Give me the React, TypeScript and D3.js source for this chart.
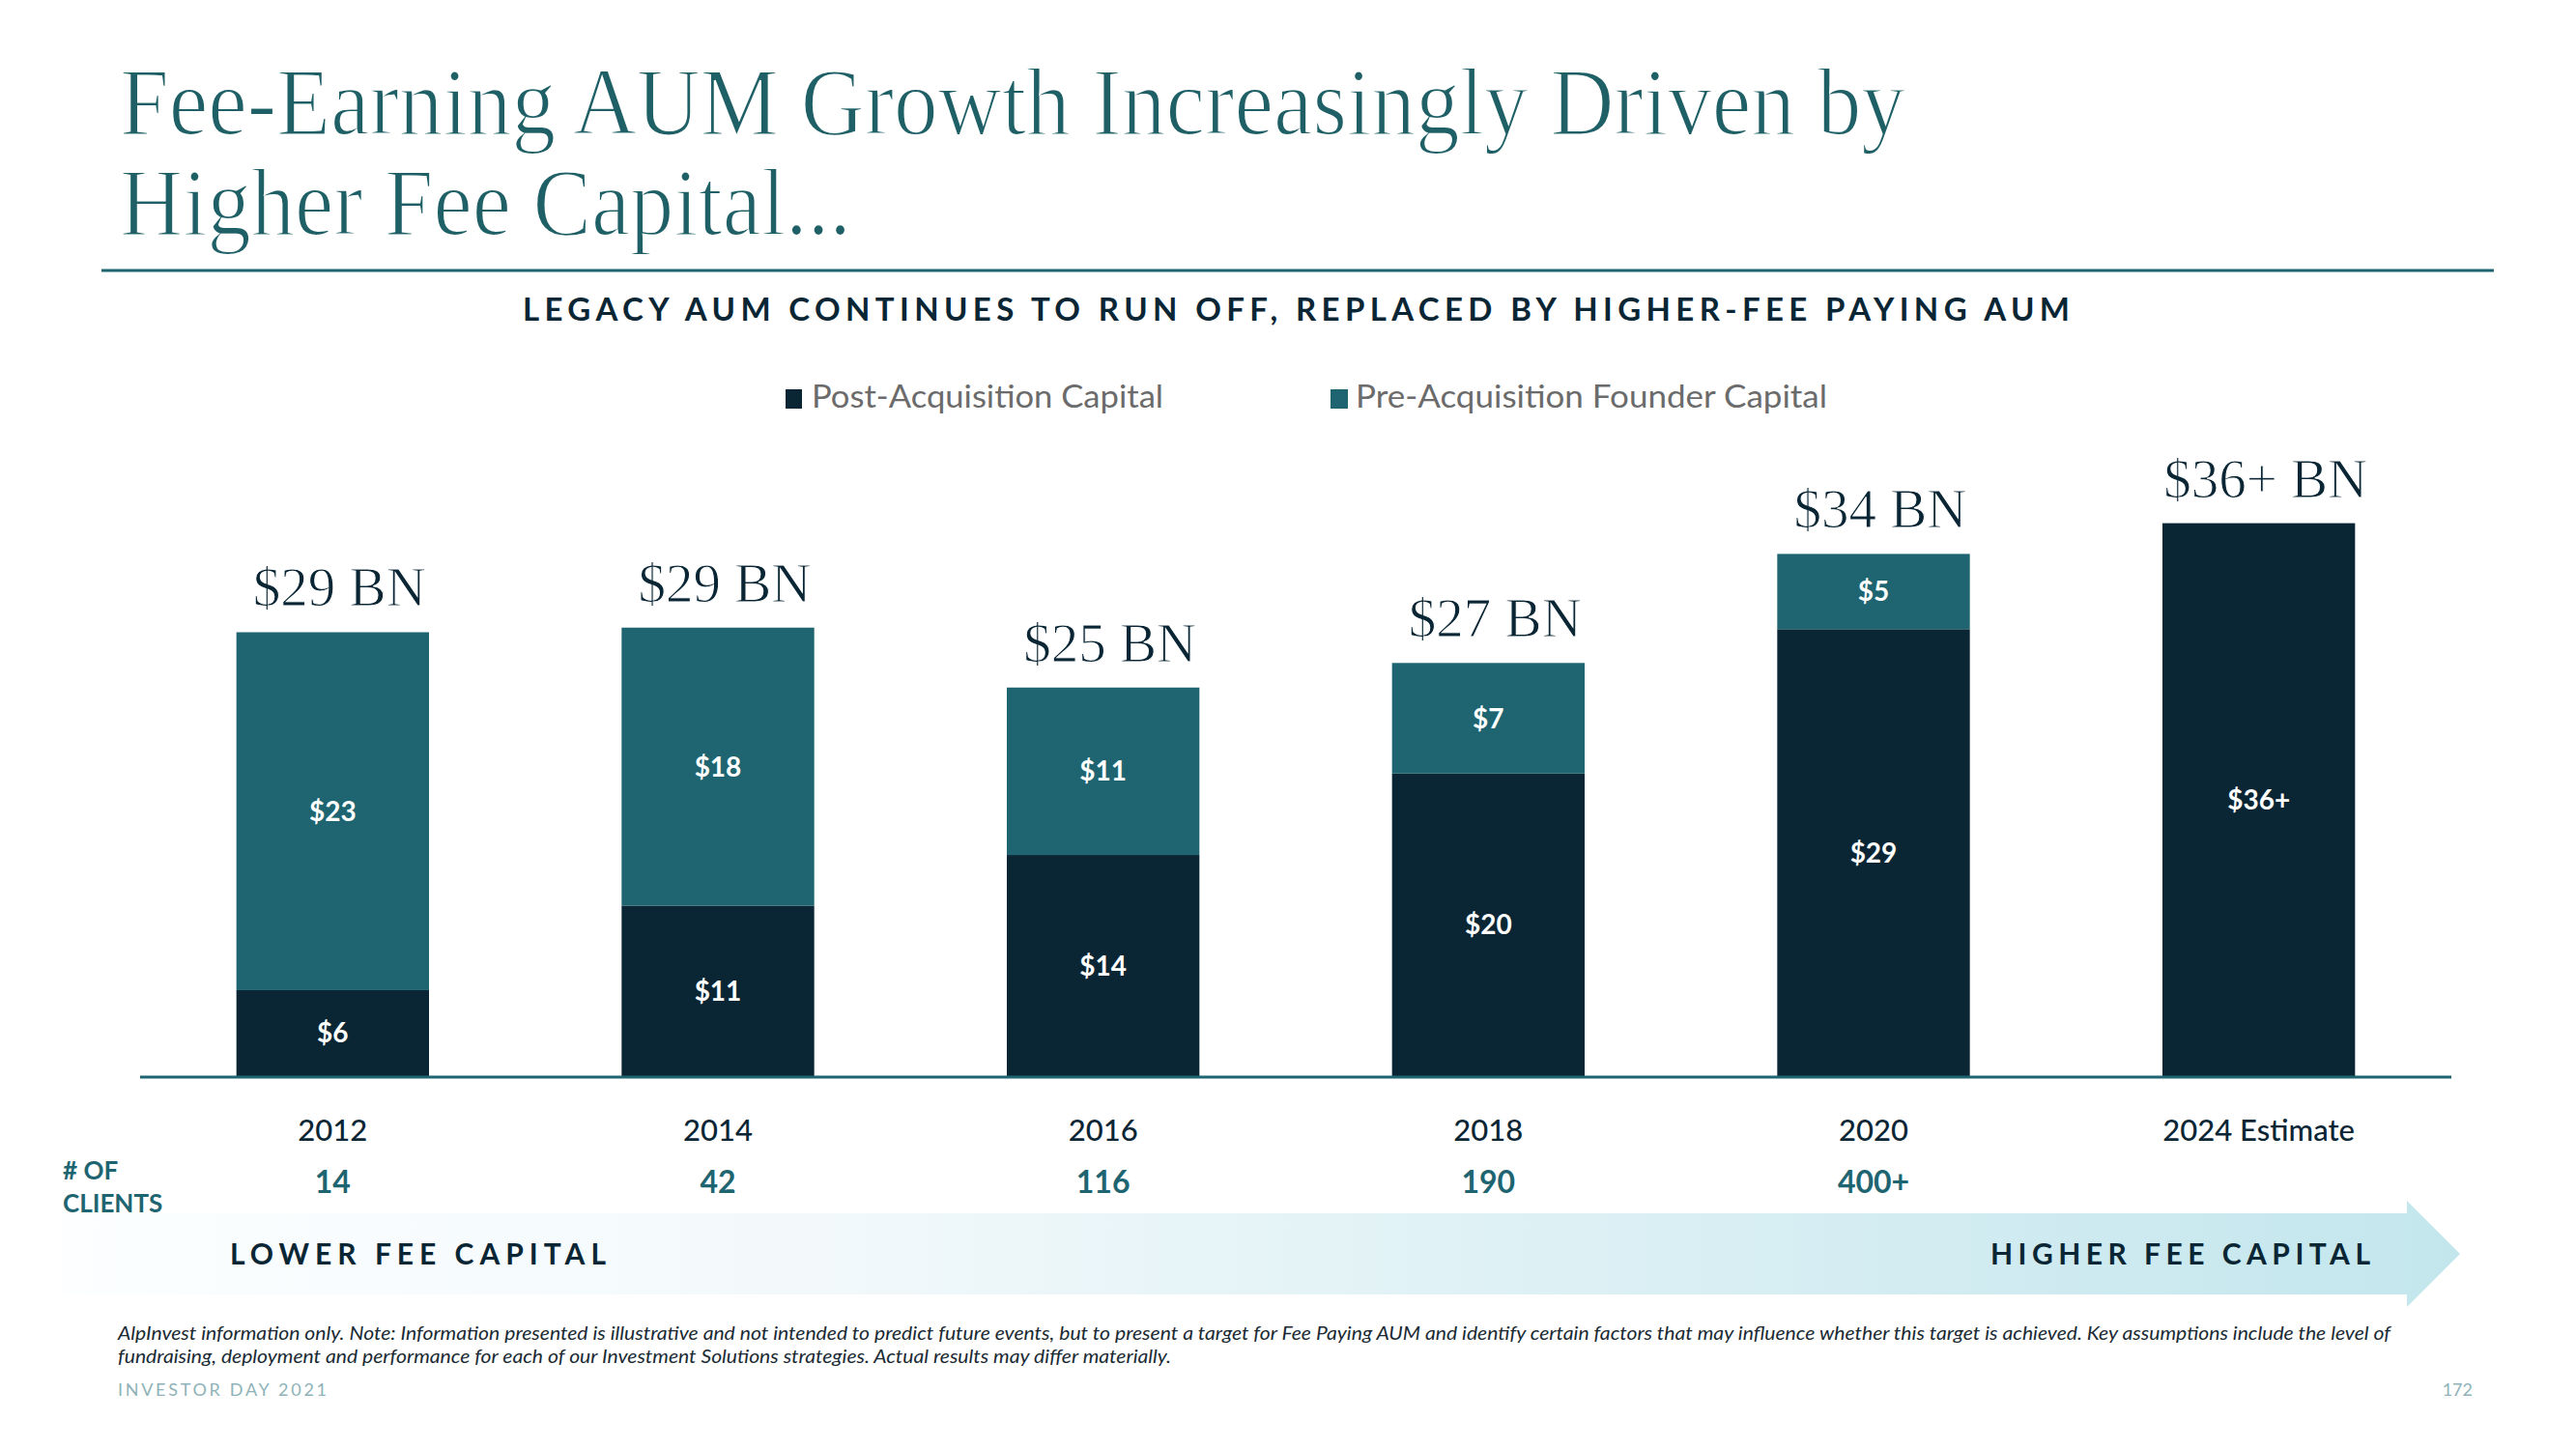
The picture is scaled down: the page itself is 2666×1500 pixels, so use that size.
import React from "react";
import * as d3 from "d3";

const years = ["2012", "2014", "2016", "2018", "2020", "2024 Estimate"];
const postAcq = [5.6, 11.1, 14.4, 19.7, 29.1, 36.0];
const preAcq = [23.3, 18.1, 10.9, 7.2, 4.9, 0];
const postLabels = ["$6", "$11", "$14", "$20", "$29", "$36+"];
const preLabels = ["$23", "$18", "$11", "$7", "$5", ""];
const totalLabels = ["$29 BN", "$29 BN", "$25 BN", "$27 BN", "$34 BN", "$36+ BN"];
const clients = ["14", "42", "116", "190", "400+", ""];
const seriesNames = ["Post-Acquisition Capital", "Pre-Acquisition Founder Capital"];

const W = 2666;
const H = 1500;
const DARK = "#0a2635";
const TEAL = "#1e6571";
const TITLE = "#1f6067";
const SANS = "Lato, 'Noto Sans', sans-serif";
const SERIF = "'Liberation Serif', 'DejaVu Serif', serif";

export default function App() {
  const x = d3.scaleBand<string>().domain(years).range([145, 2537]).paddingInner(0.5).paddingOuter(0.25);
  const y = d3.scaleLinear().domain([0, 40]).range([1114, 478]);
  const rows = years.map((yr, i) => ({ year: yr, post: postAcq[i], pre: preAcq[i] }));
  const stack = d3.stack<any>().keys(["post", "pre"]);
  const series = stack(rows);
  const colors = [DARK, TEAL];
  const labelSets = [postLabels, preLabels];
  const bw = x.bandwidth();

  return (
    <svg width={W} height={H} style={{ position: "absolute", left: 0, top: 0, background: "#fff" }}>
      <defs>
        <linearGradient id="arrowGrad" x1="0" x2="1" y1="0" y2="0">
          <stop offset="0" stopColor="#fcfeff" />
          <stop offset="0.3" stopColor="#f3f9fb" />
          <stop offset="1" stopColor="#c3e6ed" />
        </linearGradient>
      </defs>
      {/* Title */}
      <g fontFamily={SERIF} fontSize={100} fill={TITLE} stroke="#fff" strokeWidth={2}>
        <text x={124} y={139} textLength={1848} lengthAdjust="spacingAndGlyphs">
          Fee-Earning AUM Growth Increasingly Driven by
        </text>
        <text x={124} y={243} textLength={757} lengthAdjust="spacingAndGlyphs">
          Higher Fee Capital...
        </text>
      </g>
      <line x1={105} x2={2581} y1={280} y2={280} stroke={TEAL} strokeWidth={3} />

      {/* Subtitle */}
      <text x={541} y={332} fontFamily={SANS} fontWeight={700} fontSize={33} fill={DARK} textLength={1601} lengthAdjust="spacing">
        LEGACY AUM CONTINUES TO RUN OFF, REPLACED BY HIGHER-FEE PAYING AUM
      </text>

      {/* Legend */}
      <rect x={813} y={403} width={17} height={20} fill={DARK} />
      <text x={840} y={422} fontFamily={SANS} fontSize={32} fill="#6b6b6b" textLength={364} lengthAdjust="spacingAndGlyphs">
        {seriesNames[0]}
      </text>
      <rect x={1377} y={403} width={18} height={20} fill={TEAL} />
      <text x={1403} y={422} fontFamily={SANS} fontSize={32} fill="#6b6b6b" textLength={488} lengthAdjust="spacingAndGlyphs">
        {seriesNames[1]}
      </text>

      {/* Bars */}
      {series.map((s, si) => (
        <g key={si}>
          {s.map((d, i) => {
            const h = y(d[0]) - y(d[1]);
            if (h <= 0) return null;
            const x0 = x(years[i]) as number;
            const cy = (y(d[0]) + y(d[1])) / 2;
            return (
              <g key={i}>
                <rect x={x0} y={y(d[1])} width={bw} height={h} fill={colors[si]} />
                <text x={x0 + bw / 2} y={cy + 10} textAnchor="middle" fontFamily={SANS} fontWeight={700} fontSize={28} fill="#fff">
                  {labelSets[si][i]}
                </text>
              </g>
            );
          })}
        </g>
      ))}

      {/* Total labels */}
      {years.map((yr, i) => (
        <text key={yr} x={(x(yr) as number) + bw / 2 + 7} y={y(postAcq[i] + preAcq[i]) - 27} textAnchor="middle" fontFamily={SERIF} fontSize={57} fill={DARK} stroke="#fff" strokeWidth={1}>
          {totalLabels[i]}
        </text>
      ))}

      {/* Baseline */}
      <line x1={x.range()[0]} x2={x.range()[1]} y1={y(0) + 1} y2={y(0) + 1} stroke={TEAL} strokeWidth={3} />

      {/* Year labels */}
      {years.map((yr) => (
        <text key={yr} x={(x(yr) as number) + bw / 2} y={1181} textAnchor="middle" fontFamily={SANS} fontWeight={500} fontSize={31} fill={DARK}>
          {yr}
        </text>
      ))}

      {/* Clients */}
      <text x={65} y={1221} fontFamily={SANS} fontWeight={700} fontSize={26} fill={TEAL}># OF</text>
      <text x={65} y={1255} fontFamily={SANS} fontWeight={700} fontSize={26} fill={TEAL}>CLIENTS</text>
      {years.map((yr, i) => (
        <text key={yr} x={(x(yr) as number) + bw / 2} y={1235} textAnchor="middle" fontFamily={SANS} fontWeight={700} fontSize={32} fill={TEAL}>
          {clients[i]}
        </text>
      ))}

      {/* Arrow */}
      <path d="M65,1256 L2491,1256 L2491,1243 L2546,1298 L2491,1353 L2491,1340 L65,1340 Z" fill="url(#arrowGrad)" />
      <text x={238} y={1309} fontFamily={SANS} fontWeight={700} fontSize={30} fill={DARK} textLength={389} lengthAdjust="spacing">
        LOWER FEE CAPITAL
      </text>
      <text x={2060} y={1309} fontFamily={SANS} fontWeight={700} fontSize={30} fill={DARK} textLength={393} lengthAdjust="spacing">
        HIGHER FEE CAPITAL
      </text>

      {/* Footnote */}
      <text x={122} y={1387} fontFamily={SANS} fontStyle="italic" fontSize={19} fill="#1a2a33" textLength={2352} lengthAdjust="spacingAndGlyphs">
        AlpInvest information only. Note: Information presented is illustrative and not intended to predict future events, but to present a target for Fee Paying AUM and identify certain factors that may influence whether this target is achieved. Key assumptions include the level of
      </text>
      <text x={122} y={1411} fontFamily={SANS} fontStyle="italic" fontSize={19} fill="#1a2a33" textLength={1090} lengthAdjust="spacingAndGlyphs">
        fundraising, deployment and performance for each of our Investment Solutions strategies. Actual results may differ materially.
      </text>
      <text x={122} y={1445} fontFamily={SANS} fontSize={18} fill="#8fb3b8" textLength={216} lengthAdjust="spacing">
        INVESTOR DAY 2021
      </text>
      <text x={2559} y={1445} textAnchor="end" fontFamily={SANS} fontSize={18} fill="#8fb3b8">172</text>
    </svg>
  );
}
